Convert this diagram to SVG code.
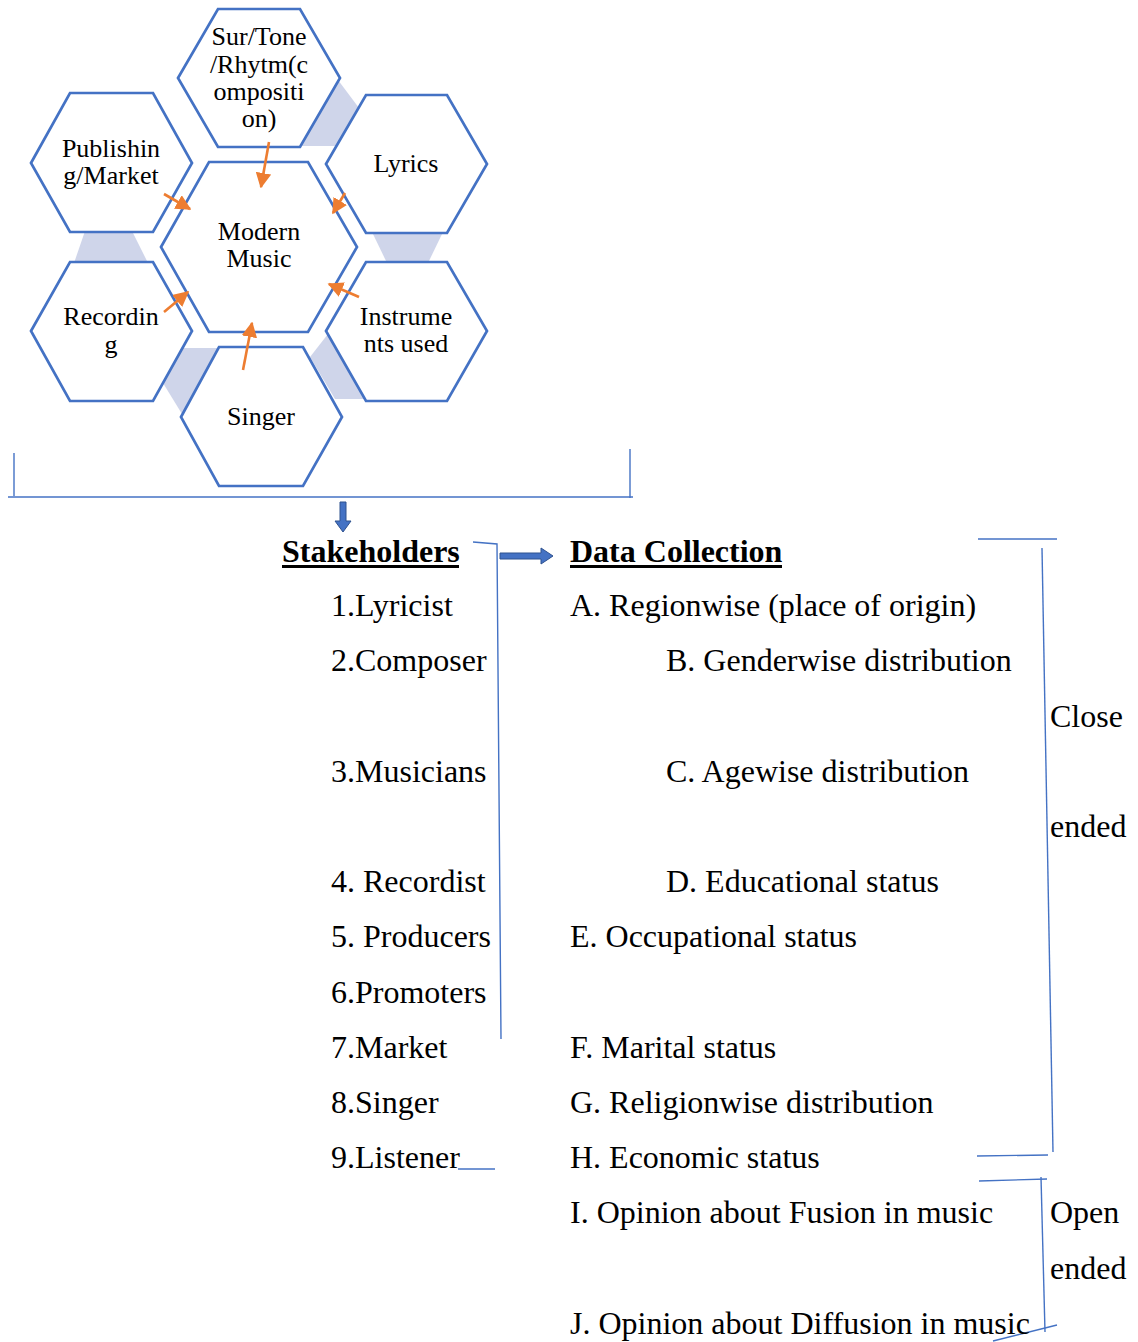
<svg xmlns="http://www.w3.org/2000/svg" width="1138" height="1342" viewBox="0 0 1138 1342">
<style>
.hex{fill:#fff;stroke:#4472C4;stroke-width:2.7;stroke-linejoin:miter}
.shade{fill:#CFD5EA;stroke:none}
.ht{font-family:"Liberation Serif","Times New Roman",serif;font-size:26px;fill:#000;text-anchor:middle}
.t{font-family:"Liberation Serif","Times New Roman",serif;font-size:32px;fill:#000}
.tb{font-family:"Liberation Serif","Times New Roman",serif;font-size:32px;font-weight:bold;fill:#000}
.ln{fill:none;stroke:#4472C4;stroke-width:1.4}
.or{stroke:#ED7D31;stroke-width:2.6;fill:none}
.blk{fill:#4472C4;stroke:#2F528F;stroke-width:1}
</style>
<defs>
<marker id="oa" viewBox="0 0 10 10" refX="9" refY="5" markerWidth="6" markerHeight="6" orient="auto" markerUnits="strokeWidth">
<path d="M0,0 L10,5 L0,10 z" fill="#ED7D31"/>
</marker>
</defs>

<g id="shading">
<polygon class="shade" points="338,80 359,108 337,146 300,146"/>
<polygon class="shade" points="372,232 443,232 428,263 387,263"/>
<polygon class="shade" points="85,231 132,231 148,263 74,263"/>
<polygon class="shade" points="182,348 218,348 182,414 163,383"/>
<polygon class="shade" points="328,334 310,357 335,399 365,399"/>
</g>

<g id="node-sur">
<polygon class="hex" points="178,78 218,9 300,9 340,78 300,147 218,147"/>
<text class="ht" x="259" y="45">Sur/Tone</text>
<text class="ht" x="259" y="73">/Rhytm(c</text>
<text class="ht" x="259" y="100">ompositi</text>
<text class="ht" x="259" y="127">on)</text>
</g>
<g id="node-publishing">
<polygon class="hex" points="31,163 70,93 153,93 192,163 153,232 70,232"/>
<text class="ht" x="111" y="157">Publishin</text>
<text class="ht" x="111" y="184">g/Market</text>
</g>
<g id="node-lyrics">
<polygon class="hex" points="326,164 366,95 447,95 487,164 447,233 366,233"/>
<text class="ht" x="406" y="172">Lyrics</text>
</g>
<g id="node-recording">
<polygon class="hex" points="31,331 70,262 153,262 192,331 153,401 70,401"/>
<text class="ht" x="111" y="325">Recordin</text>
<text class="ht" x="111" y="353">g</text>
</g>
<g id="node-instruments">
<polygon class="hex" points="326,331 366,262 447,262 487,331 447,401 366,401"/>
<text class="ht" x="406" y="325">Instrume</text>
<text class="ht" x="406" y="352">nts used</text>
</g>
<g id="node-singer">
<polygon class="hex" points="181,417 219,347 303,347 342,417 303,486 219,486"/>
<text class="ht" x="261" y="425">Singer</text>
</g>
<g id="node-modern">
<polygon class="hex" points="161,247 209,162 308,162 357,247 308,332 209,332"/>
<text class="ht" x="259" y="240">Modern</text>
<text class="ht" x="259" y="267">Music</text>
</g>

<g id="connectors">
<line class="or" x1="269" y1="142" x2="261" y2="187" marker-end="url(#oa)"/>
<line class="or" x1="164" y1="194" x2="190" y2="209" marker-end="url(#oa)"/>
<line class="or" x1="345" y1="193" x2="333" y2="213" marker-end="url(#oa)"/>
<line class="or" x1="164" y1="312" x2="188" y2="292" marker-end="url(#oa)"/>
<line class="or" x1="359" y1="297" x2="329" y2="284" marker-end="url(#oa)"/>
<line class="or" x1="243" y1="370" x2="252" y2="323" marker-end="url(#oa)"/>

<polyline class="ln" points="14,453 14,496"/>
<line class="ln" x1="8" y1="497" x2="633" y2="497"/>
<line class="ln" x1="630" y1="449" x2="630" y2="498"/>

<polygon class="blk" points="340,502 346,502 346,521 351,521 343,532 335,521 340,521"/>
<polygon class="blk" points="500,553 541,553 541,548 553,556 541,564 541,559 500,559"/>

<polyline class="ln" points="473,542 497,544 501,1039"/>
<line class="ln" x1="458" y1="1169" x2="495" y2="1169"/>

<line class="ln" x1="978" y1="539" x2="1057" y2="539"/>
<line class="ln" x1="1042" y1="548" x2="1053" y2="1152"/>
<line class="ln" x1="977" y1="1156" x2="1048" y2="1155"/>

<line class="ln" x1="979" y1="1181" x2="1047" y2="1179"/>
<line class="ln" x1="1041" y1="1177" x2="1045" y2="1332"/>
<line class="ln" x1="993" y1="1341" x2="1057" y2="1325"/>
</g>

<g id="stakeholders">
<text class="tb" x="282" y="562">Stakeholders</text>
<rect x="282" y="565" width="177" height="3" fill="#000"/>
<text class="t" x="331" y="616">1.Lyricist</text>
<text class="t" x="331" y="671">2.Composer</text>
<text class="t" x="331" y="782">3.Musicians</text>
<text class="t" x="331" y="892">4. Recordist</text>
<text class="t" x="331" y="947">5. Producers</text>
<text class="t" x="331" y="1003">6.Promoters</text>
<text class="t" x="331" y="1058">7.Market</text>
<text class="t" x="331" y="1113">8.Singer</text>
<text class="t" x="331" y="1168">9.Listener</text>
</g>

<g id="data-collection">
<text class="tb" x="570" y="562">Data Collection</text>
<rect x="570" y="565" width="212" height="3" fill="#000"/>
<text class="t" x="570" y="616">A. Regionwise (place of origin)</text>
<text class="t" x="666" y="671">B. Genderwise distribution</text>
<text class="t" x="666" y="782">C. Agewise distribution</text>
<text class="t" x="666" y="892">D. Educational status</text>
<text class="t" x="570" y="947">E. Occupational status</text>
<text class="t" x="570" y="1058">F. Marital status</text>
<text class="t" x="570" y="1113">G. Religionwise distribution</text>
<text class="t" x="570" y="1168">H. Economic status</text>
<text class="t" x="570" y="1223">I. Opinion about Fusion in music</text>
<text class="t" x="570" y="1334">J. Opinion about Diffusion in music</text>
</g>

<g id="labels">
<text class="t" x="1050" y="727">Close</text>
<text class="t" x="1050" y="837">ended</text>
<text class="t" x="1050" y="1223">Open</text>
<text class="t" x="1050" y="1279">ended</text>
</g>
</svg>
